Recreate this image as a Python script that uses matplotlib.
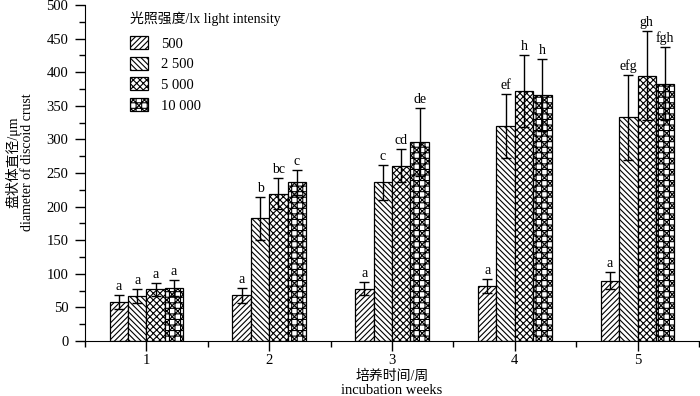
import matplotlib.pyplot as plt
import numpy as np
from matplotlib.ticker import MultipleLocator

plt.rcParams['font.family'] = ['Liberation Serif', 'Noto Sans CJK SC']
plt.rcParams['hatch.linewidth'] = 0.8

weeks = [1, 2, 3, 4, 5]
intensity = ['500', '2 500', '5 000', '10 000']

# mean diameter (um) per light intensity, weeks 1-5
d500 = [58, 68, 78, 82, 90]
d2500 = [67, 183, 236, 320, 333]
d5000 = [77, 219, 261, 372, 395]
d10000 = [79, 236, 296, 366, 383]

e500 = [10, 11, 10, 10, 12]
e2500 = [11, 32, 26, 47, 63]
e5000 = [10, 23, 24, 53, 66]
e10000 = [12, 19, 50, 54, 54]

sig500 = ['a', 'a', 'a', 'a', 'a']
sig2500 = ['a', 'b', 'c', 'ef', 'efg']
sig5000 = ['a', 'bc', 'cd', 'h', 'gh']
sig10000 = ['a', 'c', 'de', 'h', 'fgh']

means = [d500, d2500, d5000, d10000]
errs = [e500, e2500, e5000, e10000]
sigs = [sig500, sig2500, sig5000, sig10000]
hatches = ['//////', '\\\\\\\\\\\\', 'xxxxx', 'xxx+++']

fig = plt.figure(figsize=(7, 3.96), dpi=100)
ax = fig.add_axes([85/700, 1-341/396, 614/700, 336/396])

w = 0.15
x = np.array(weeks)
for i in range(4):
    pos = x + (i - 1.5) * w
    ax.bar(pos, means[i], w, color='white', edgecolor='black', linewidth=0.9,
           hatch=hatches[i], label=intensity[i], zorder=2)
    ax.errorbar(pos, means[i], yerr=errs[i], fmt='none', ecolor='black',
                elinewidth=1, capsize=3.5, capthick=1, zorder=3)
    for p, m, e, s in zip(pos, means[i], errs[i], sigs[i]):
        ax.text(p, m + e + 3, s, ha='center', va='bottom', fontsize=10)

ax.set_xlim(0.5, 5.5)
ax.set_ylim(0, 500)
ax.set_xticks(weeks)
ax.set_xticks([0.5, 1.5, 2.5, 3.5, 4.5, 5.5], minor=True)
ax.yaxis.set_major_locator(MultipleLocator(50))
ax.yaxis.set_minor_locator(MultipleLocator(25))
ax.tick_params(axis='both', which='major', direction='out', length=7, width=1, labelsize=10.5)
ax.tick_params(axis='x', which='major', pad=2.5)
ax.tick_params(axis='y', which='major', pad=5)
ax.tick_params(axis='both', which='minor', direction='out', length=4, width=1)
ax.spines['top'].set_visible(False)
ax.spines['right'].set_visible(False)

# axis titles (Chinese + English lines)
fig.text(392/700, 1-376/396, '培养时间/周', ha='center', va='center', fontsize=10)
fig.text(392/700, 1-390/396, 'incubation weeks', ha='center', va='center', fontsize=10.5)
fig.text(13/700, 1-162/396, '盘状体直径/μm', ha='center', va='center', rotation=90, fontsize=10)
fig.text(28/700, 1-162/396, 'diameter of discoid crust', ha='center', va='center', rotation=90, fontsize=10)

leg = ax.legend(loc='upper left', bbox_to_anchor=(0.052, 1.02), frameon=False,
                title='光照强度/lx light intensity', fontsize=10.5, title_fontsize=10,
                handlelength=1.2, handleheight=1.0, labelspacing=0.42,
                handletextpad=0.9, alignment='left')
leg._legend_box.sep = 7

fig.savefig('out.png', dpi=100)
